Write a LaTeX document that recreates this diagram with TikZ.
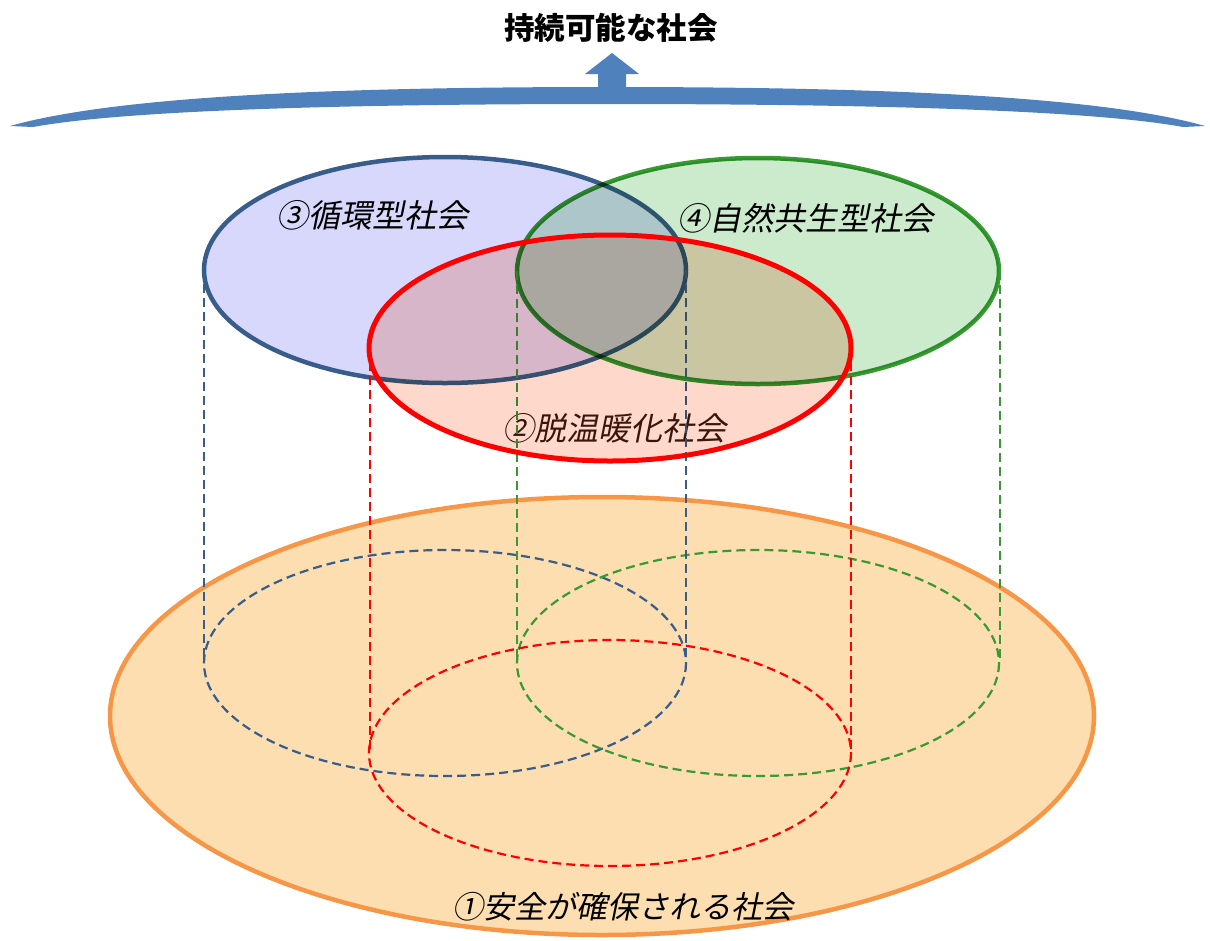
\documentclass[tikz,border=0pt]{standalone}
\usepackage{fontspec}
\newfontfamily\jp{Noto Sans CJK JP}
\newfontfamily\jpit[FakeSlant=0.2]{Noto Sans CJK JP}
\definecolor{bandblue}{RGB}{79,129,189}
\definecolor{orangefill}{RGB}{253,222,176}
\definecolor{orangeline}{RGB}{247,150,70}
\definecolor{blueline}{RGB}{56,93,138}
\definecolor{bluefill}{RGB}{216,216,252}
\definecolor{greenline}{RGB}{55,155,50}
\definecolor{greenfill}{RGB}{204,234,204}
\definecolor{redline}{RGB}{255,0,0}
\definecolor{redfill}{RGB}{253,216,203}
\definecolor{darkbrown}{RGB}{60,25,15}
\tikzset{
  lbl/.style={font=\jpit\fontsize{32pt}{36pt}\selectfont, inner sep=0pt},
  lblb/.style={font=\jpit\fontsize{31pt}{36pt}\selectfont, inner sep=0pt},
  ttl/.style={font=\jp\bfseries\fontsize{30.5pt}{36pt}\selectfont, inner sep=0pt},
  dashline/.style={line width=2.2pt, dash pattern=on 9pt off 5pt},
  rim/.style={line width=4.5pt}
}
\begin{document}
\begin{tikzpicture}[x=1pt,y=-1pt]
\useasboundingbox (0,0) rectangle (1210,940);
% top band and arrow
\fill[bandblue] (10,126) .. controls (120,95) and (350,87) .. (608,87) .. controls (866,87) and (1096,95) .. (1205,126) -- (1183,127) .. controls (1090,110) and (866,104) .. (608,104) .. controls (350,104) and (126,110) .. (33,127) -- cycle;
\fill[bandblue] (598,88) -- (598,74) -- (585,74) -- (612,53) -- (639,74) -- (626,74) -- (626,88) -- cycle;
\node[ttl] (title) at (611,28) {持続可能な社会};
% base ellipse
\draw[orangeline, fill=orangefill, line width=4.5pt] (602,716) ellipse [x radius=492, y radius=219];
% lower dashed ellipses
\draw[blueline, dashline] (445,663) ellipse [x radius=241, y radius=113];
\draw[greenline, dashline] (758,663) ellipse [x radius=241, y radius=113];
\draw[redline, dashline] (610,753) ellipse [x radius=241, y radius=113];
% upper ellipses
\draw[blueline, fill=bluefill, rim] (445,270) ellipse [x radius=241, y radius=113];
\begin{scope}[blend mode=multiply]
\draw[greenline, fill=greenfill, rim] (758,271) ellipse [x radius=241, y radius=113];
\end{scope}
\node[lbl] (c3) at (372,215) {③循環型社会};
\node[lbl] (c4) at (805,218) {④自然共生型社会};
\node[lbl, text=darkbrown] (c2) at (614,428) {②脱温暖化社会};
% vertical dashed connectors
\coordinate (b1t) at (204,270); \coordinate (b1b) at (204,663);
\coordinate (b2t) at (686,270); \coordinate (b2b) at (686,663);
\coordinate (g1t) at (517,271); \coordinate (g1b) at (517,663);
\coordinate (g2t) at (1000,271); \coordinate (g2b) at (1000,663);
\coordinate (r1t) at (370,348); \coordinate (r1b) at (370,753);
\coordinate (r2t) at (851,348); \coordinate (r2b) at (851,753);
\draw[blueline, dashline] (b1t) -- (b1b);
\draw[blueline, dashline] (b2t) -- (b2b);
\draw[greenline, dashline] (g1t) -- (g1b);
\draw[greenline, dashline] (g2t) -- (g2b);
\draw[redline, dashline] (r1t) -- (r1b);
\draw[redline, dashline] (r2t) -- (r2b);
\begin{scope}[blend mode=multiply]
\fill[redfill] (610,348) ellipse [x radius=241, y radius=113];
\end{scope}
\draw[redline, line width=5pt] (610,348) ellipse [x radius=241, y radius=113];
\node[lblb] (c1) at (623,907) {①安全が確保される社会};
\end{tikzpicture}
\end{document}
